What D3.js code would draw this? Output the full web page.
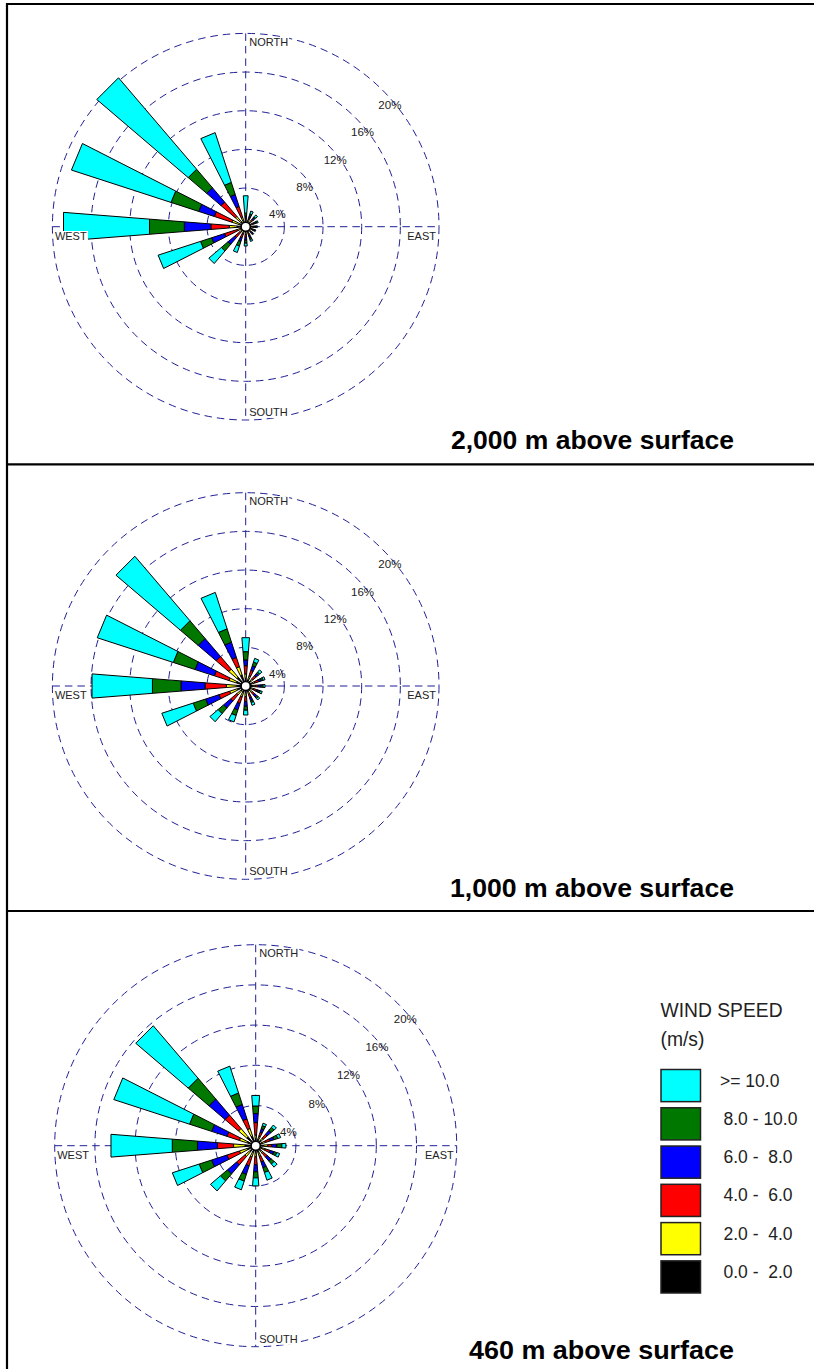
<!DOCTYPE html>
<html><head><meta charset="utf-8">
<script src="https://cdn.jsdelivr.net/npm/d3@7"></script>
<style>
body{margin:0;background:#fff}
svg{display:block}
text{font-family:"Liberation Sans",Arial,Helvetica,sans-serif}
</style>
</head><body>
<svg id="chart" width="814" height="1369"></svg>
<script>
// ---------- data ----------
const directions = ["N","NNE","NE","ENE","E","ESE","SE","SSE","S","SSW","SW","WSW","W","WNW","NW","NNW"];
const speedKeys = ["0-2","2-4","4-6","6-8","8-10","10+"];
const legendLabels = [">= 10.0","8.0 - 10.0","6.0 -  8.0","4.0 -  6.0","2.0 -  4.0","0.0 -  2.0"];
const classColors = ["#000000","#ffff00","#ff0000","#0000ff","#007800","#00ffff"];
const ringValues = [4,8,12,16,20];
const ringLabels = ["4%","8%","12%","16%","20%"];
const compassNames = ["NORTH","SOUTH","WEST","EAST"];
const panelTitles = ["2,000 m above surface","1,000 m above surface","460 m above surface"];
const legendTitle = ["WIND SPEED","(m/s)"];

// frequency (%) per direction, per speed class [0-2, 2-4, 4-6, 6-8, 8-10, >=10]
const freq2000 = [
  [0.5,0.2,0.2,0.2,0.3,1.8],
  [0.6,0.2,0.2,0.2,0.2,0.3],
  [0.6,0.2,0.2,0.2,0.15,0.25],
  [0.6,0.15,0.15,0.15,0.15,0.15],
  [0.6,0.15,0.15,0.1,0.1,0.1],
  [0.55,0.15,0.1,0.1,0.1,0.1],
  [0.55,0.15,0.1,0.1,0.1,0.1],
  [0.6,0.2,0.2,0.2,0.2,0.2],
  [0.6,0.2,0.3,0.3,0.3,0.3],
  [0.5,0.3,0.4,0.4,0.5,0.7],
  [0.5,0.3,0.7,0.9,0.9,1.7],
  [0.5,0.4,1.4,1.4,1.2,4.6],
  [0.9,0.8,1.9,2.75,3.6,8.9],
  [0.7,0.8,1.9,1.7,3.0,10.8],
  [0.7,0.7,1.95,1.95,2.5,12.4],
  [0.6,0.4,1.2,1.3,1.3,5.4]
];
const freq1000 = [
  [0.8,0.45,0.85,0.6,0.85,1.45],
  [0.7,0.4,0.6,0.5,0.4,0.4],
  [0.7,0.3,0.4,0.3,0.2,0.3],
  [0.7,0.3,0.4,0.3,0.2,0.2],
  [0.7,0.3,0.3,0.3,0.2,0.2],
  [0.6,0.3,0.3,0.2,0.2,0.2],
  [0.6,0.3,0.3,0.3,0.2,0.2],
  [0.6,0.3,0.4,0.3,0.2,0.3],
  [0.7,0.4,0.5,0.5,0.4,0.5],
  [0.7,0.5,0.7,0.7,0.6,0.7],
  [0.7,0.5,0.85,0.95,0.75,1.1],
  [0.9,0.85,1.15,1.45,1.35,3.4],
  [0.9,1.1,2.2,2.5,2.95,6.25],
  [1.0,0.8,1.6,2.1,2.35,8.25],
  [1.2,1.1,1.7,2.45,2.4,8.75],
  [1.2,0.9,1.0,1.65,1.45,3.95]
];
const freq460 = [
  [0.7,0.36,1.24,0.9,0.75,1.05],
  [0.7,0.3,0.4,0.4,0.3,0.25],
  [0.7,0.3,0.5,0.5,0.4,0.3],
  [0.7,0.3,0.5,0.4,0.4,0.3],
  [0.8,0.4,0.4,0.5,0.5,0.4],
  [0.7,0.3,0.5,0.4,0.3,0.3],
  [0.7,0.3,0.5,0.5,0.4,0.4],
  [0.7,0.4,0.6,0.6,0.5,0.8],
  [0.7,0.4,0.8,0.7,0.6,0.8],
  [0.7,0.5,0.9,0.9,0.7,0.9],
  [0.8,0.6,1.1,1.2,0.9,1.3],
  [0.9,0.8,1.3,1.6,1.3,2.8],
  [1.06,1.14,1.6,2.0,2.5,6.1],
  [0.85,0.85,1.3,1.6,2.3,7.9],
  [1.15,1.1,1.75,2.1,2.7,6.85],
  [1.0,0.8,1.0,1.5,1.2,2.8]
];

// ---------- layout ----------
const panels = [
  {data: freq2000, title: panelTitles[0], cx: 245.7, cy: 226.7, R: 193.3, titleY: 449, titleW: 283},
  {data: freq1000, title: panelTitles[1], cx: 245.7, cy: 686.0, R: 193.3, titleY: 897, titleW: 284},
  {data: freq460,  title: panelTitles[2], cx: 255.7, cy: 1145.7, R: 201.0, titleY: 1359, titleW: 265}
];
const ringColor = "#1f1f95";
const labelColor = "#222";

const svg = d3.select("#chart");

// frame
const frame = svg.append("g").attr("stroke", "#000").attr("stroke-width", 2.2);
frame.append("line").attr("x1", 6).attr("x2", 814).attr("y1", 4).attr("y2", 4);
frame.append("line").attr("x1", 7).attr("x2", 7).attr("y1", 3).attr("y2", 1369);
frame.append("line").attr("x1", 6).attr("x2", 814).attr("y1", 464.3).attr("y2", 464.3);
frame.append("line").attr("x1", 6).attr("x2", 814).attr("y1", 911).attr("y2", 911);

const angle = d3.scaleBand().domain(directions).range([-Math.PI/16, 2*Math.PI - Math.PI/16]);
const halfWidth = 4.5 * Math.PI / 180;

function drawPanel(p) {
  const g = svg.append("g").attr("transform", `translate(${p.cx},${p.cy})`);
  const r = d3.scaleLinear().domain([0, 20]).range([0, p.R]);

  // rings
  g.append("g").selectAll("circle").data(ringValues).join("circle")
    .attr("r", d => r(d)).attr("fill", "none")
    .attr("stroke", ringColor).attr("stroke-width", 1)
    .attr("stroke-dasharray", "7.5,5");
  // axes
  g.append("line").attr("x1", -p.R).attr("x2", p.R).attr("y1", 0).attr("y2", 0)
    .attr("stroke", ringColor).attr("stroke-dasharray", "7.5,5");
  g.append("line").attr("y1", -p.R).attr("y2", p.R).attr("x1", 0).attr("x2", 0)
    .attr("stroke", ringColor).attr("stroke-dasharray", "7.5,5");

  // ring labels
  g.append("g").selectAll("text").data(ringValues).join("text")
    .attr("x", d => r(d) * Math.SQRT1_2 - 4)
    .attr("y", d => -r(d) * Math.SQRT1_2 + 19)
    .attr("font-size", 11.5).attr("fill", labelColor)
    .text((d, i) => ringLabels[i]);

  // bars
  const rows = directions.map((dir, i) => {
    const o = {dir};
    speedKeys.forEach((k, j) => o[k] = p.data[i][j]);
    return o;
  });
  const series = d3.stack().keys(speedKeys)(rows);
  const wedge = (dir, v0, v1) => {
    const a = angle(dir) + angle.bandwidth() / 2;
    const pts = [];
    const k = 1 / Math.cos(halfWidth);
    [[v0, -1], [v1, -1], [v1, 1], [v0, 1]].forEach(([v, s]) => {
      const rr = r(v) * k, aa = a + s * halfWidth;
      pts.push([rr * Math.sin(aa), -rr * Math.cos(aa)]);
    });
    return "M" + pts.map(q => q.join(",")).join("L") + "Z";
  };
  const bars = g.append("g");
  series.forEach((s, j) => {
    bars.append("g").selectAll("path").data(s).join("path")
      .attr("d", d => wedge(d.data.dir, d[0], d[1]))
      .attr("fill", classColors[j]).attr("stroke", "#000").attr("stroke-width", 1)
      .attr("stroke-linejoin", "miter");
  });
  g.append("circle").attr("r", 4.6).attr("fill", "#fff").attr("stroke", "#000").attr("stroke-width", 1.6);

  // compass labels
  const fs = 11;
  const comp = [
    {t: compassNames[0], x: 3.5, y: -p.R + 12.5, anchor: "start"},
    {t: compassNames[1], x: 3.5, y: p.R - 4, anchor: "start"},
    {t: compassNames[2], x: -p.R + 2.5, y: 13.3, anchor: "start"},
    {t: compassNames[3], x: p.R - 3, y: 13.3, anchor: "end"}
  ];
  comp.forEach(c => {
    const t = g.append("text").attr("x", c.x).attr("y", c.y).attr("font-size", fs)
      .attr("fill", labelColor).attr("text-anchor", c.anchor).text(c.t);
    const bb = t.node().getBBox();
    g.insert("rect", () => t.node()).attr("x", bb.x - 1).attr("y", bb.y + 1)
      .attr("width", bb.width + 2).attr("height", bb.height - 1).attr("fill", "#fff");
  });

  // title
  svg.append("text").attr("x", 734).attr("y", p.titleY).attr("text-anchor", "end")
    .attr("font-size", 25).attr("font-weight", "bold").attr("fill", "#000")
    .attr("textLength", p.titleW).attr("lengthAdjust", "spacingAndGlyphs")
    .text(p.title);
}
panels.forEach(drawPanel);

// legend
const lg = svg.append("g");
lg.append("text").attr("x", 660.5).attr("y", 1017).attr("font-size", 19.3).attr("fill", "#222")
  .text(legendTitle[0]);
lg.append("text").attr("x", 660.5).attr("y", 1046).attr("font-size", 19.3).attr("fill", "#222")
  .text(legendTitle[1]);
const legendOrder = d3.range(speedKeys.length).reverse();
const ly = d3.scaleBand().domain(legendOrder).range([1069.5, 1293]).paddingInner(0.16);
legendOrder.forEach((j, i) => {
  lg.append("rect").attr("x", 661).attr("y", ly(j)).attr("width", 39.5).attr("height", ly.bandwidth())
    .attr("fill", classColors[j]).attr("stroke", "#222").attr("stroke-width", 1.5);
  lg.append("text").attr("x", i === 0 ? 720 : 723.5).attr("y", ly(j) + ly.bandwidth()/2 + 1)
    .attr("font-size", 17.5).attr("fill", "#222").attr("xml:space", "preserve")
    .style("white-space", "pre").text(legendLabels[i]);
});
</script>
</body></html>
